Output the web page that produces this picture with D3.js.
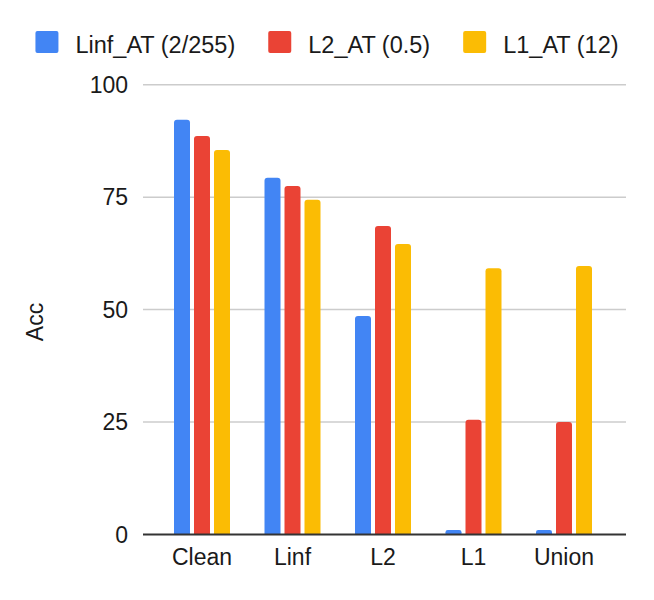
<!DOCTYPE html>
<html>
<head>
<meta charset="utf-8">
<script src="https://cdn.jsdelivr.net/npm/d3@7"></script>
<style>
  body { margin: 0; background: #fff; }
  text { font-family: "Liberation Sans", Arial, sans-serif; fill: #1a1a1a; }
</style>
</head>
<body>
<svg id="chart" width="654" height="600"></svg>
<script>
let categories = ["Clean", "Linf", "L2", "L1", "Union"];
let seriesNames = ["Linf_AT (2/255)", "L2_AT (0.5)", "L1_AT (12)"];
let colors = ["#4285F4", "#EA4335", "#FBBC04"];
let linfAT = [92.2, 79.3, 48.6, 1.0, 1.0];
let l2AT = [88.6, 77.5, 68.6, 25.5, 25.0];
let l1AT = [85.5, 74.4, 64.6, 59.2, 59.7];
let yTicks = [0, 25, 50, 75, 100];

let series = [linfAT, l2AT, l1AT];

let svg = d3.select("#chart");
let width = 654, height = 600;
let plotLeft = 143, plotRight = 626, plotTop = 84.7, plotBottom = 534.5;

let y = d3.scaleLinear().domain([0, 100]).range([plotBottom, plotTop]);
let x = d3.scaleBand().domain(categories).range([156.75, 609.25]).padding(0);
let xi = d3.scaleBand().domain(d3.range(3)).range([-28, 28]).paddingInner(0.2);

// gridlines
svg.append("g")
  .selectAll("line")
  .data(yTicks.filter(d => d > 0))
  .join("line")
  .attr("x1", plotLeft).attr("x2", plotRight)
  .attr("y1", d => y(d)).attr("y2", d => y(d))
  .attr("stroke", "#cccccc")
  .attr("stroke-width", 1.5);

// y tick labels
svg.append("g")
  .selectAll("text")
  .data(yTicks)
  .join("text")
  .attr("x", 128)
  .attr("y", d => y(d) + 8)
  .attr("text-anchor", "end")
  .style("font-size", "23px")
  .text(d => d);

// bars with rounded tops
function barPath(x0, w, y0, y1) {
  let r = Math.min(3, (y0 - y1) / 2, w / 2);
  return "M" + x0 + "," + y0 +
    "V" + (y1 + r) +
    "Q" + x0 + "," + y1 + " " + (x0 + r) + "," + y1 +
    "H" + (x0 + w - r) +
    "Q" + (x0 + w) + "," + y1 + " " + (x0 + w) + "," + (y1 + r) +
    "V" + y0 + "Z";
}

let groups = svg.append("g")
  .selectAll("g")
  .data(categories)
  .join("g")
  .attr("transform", d => "translate(" + (x(d) + x.bandwidth() / 2) + ",0)");

groups.selectAll("path")
  .data((d, i) => series.map((s, k) => ({k: k, v: s[i]})))
  .join("path")
  .attr("d", d => barPath(xi(d.k), xi.bandwidth(), y(0), y(d.v)))
  .attr("fill", d => colors[d.k]);

// zero line
svg.append("line")
  .attr("x1", plotLeft).attr("x2", plotRight)
  .attr("y1", y(0)).attr("y2", y(0))
  .attr("stroke", "#333333")
  .attr("stroke-width", 2);

// x labels
svg.append("g")
  .selectAll("text")
  .data(categories)
  .join("text")
  .attr("x", d => x(d) + x.bandwidth() / 2)
  .attr("y", 565)
  .attr("text-anchor", "middle")
  .style("font-size", "23px")
  .text(d => d);

// y axis title
svg.append("text")
  .attr("transform", "translate(43,322) rotate(-90)")
  .attr("text-anchor", "middle")
  .style("font-size", "23px")
  .text("Acc");

// legend
let legend = svg.append("g");
let lx = 0;
seriesNames.forEach((name, k) => {
  let item = legend.append("g").attr("transform", "translate(" + lx + ",0)");
  item.append("rect")
    .attr("x", 0).attr("y", 31)
    .attr("width", 23).attr("height", 22)
    .attr("rx", 2)
    .attr("fill", colors[k]);
  let t = item.append("text")
    .attr("x", 40).attr("y", 52.5)
    .style("font-size", "23.5px")
    .text(name);
  lx += 40 + t.node().getComputedTextLength() + 33;
});
let legendW = lx - 33;
legend.attr("transform", "translate(" + ((width - legendW) / 2) + ",0)");
</script>
</body>
</html>
